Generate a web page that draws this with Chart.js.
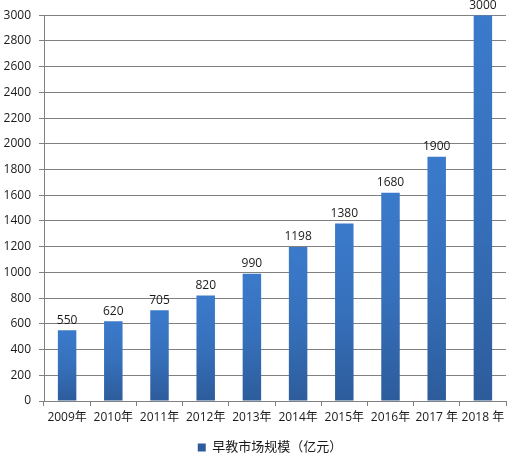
<!DOCTYPE html>
<html lang="zh">
<head>
    <meta charset="utf-8">
    <title>早教市场规模</title>
    <script src="https://cdn.jsdelivr.net/npm/chart.js"></script>
    <style>
        body, html {
            margin: 0;
            background: #fff;
        }
        #wrap {
            width: 510px;
            height: 464px;
        }
    </style>
</head>
<body>

<div id="wrap">
    <canvas id="myChart"></canvas>
</div>

<script>
    // data
    const years = ['2009年', '2010年', '2011年', '2012年', '2013年', '2014年', '2015年', '2016年', '2017 年', '2018 年']
    const marketSize = [550, 620, 705, 820, 990, 1198, 1380, 1620, 1900, 3000]
    const valueLabels = ['550', '620', '705', '820', '990', '1198', '1380', '1680', '1900', '3000']
    const seriesName = '早教市场规模（亿元）'

    const fontFamily = '"Open Sans", "Noto Sans CJK SC", sans-serif'

    // per-bar vertical gradient, light at the top, darker at the bottom
    function barGradient(context) {
        const chart = context.chart
        const area = chart.chartArea
        if (!area) return '#3a78c8'
        const yScale = chart.scales.y
        const top = yScale.getPixelForValue(context.parsed ? context.parsed.y : 0)
        const bottom = yScale.getPixelForValue(0)
        const g = chart.ctx.createLinearGradient(0, top, 0, bottom)
        g.addColorStop(0, '#3b7acb')
        g.addColorStop(0.5, '#3670bb')
        g.addColorStop(1, '#2d5c9b')
        return g
    }

    // draws the value over each bar
    const valueLabelPlugin = {
        id: 'valueLabels',
        afterLayout(chart) {
            // legend sits a little right of centre in the original
            chart.legend.left += 34
        },
        afterDatasetsDraw(chart) {
            const ctx = chart.ctx
            const meta = chart.getDatasetMeta(0)
            ctx.save()
            ctx.font = '12px ' + fontFamily
            ctx.fillStyle = '#1a1a1a'
            ctx.textAlign = 'center'
            ctx.textBaseline = 'bottom'
            meta.data.forEach(function (bar, i) {
                ctx.fillText(valueLabels[i], bar.x, bar.y - 4)
            })
            ctx.restore()
        }
    }

    const data = {
        labels: years,
        datasets: [{
            label: seriesName,
            data: marketSize,
            backgroundColor: barGradient,
            borderWidth: 0,
            categoryPercentage: 1,
            barPercentage: 0.4
        }]
    }

    const config = {
        type: 'bar',
        data: data,
        plugins: [valueLabelPlugin],
        options: {
            responsive: true,
            maintainAspectRatio: false,
            animation: false,
            layout: {
                padding: {top: 10, right: 4, bottom: 0, left: 0}
            },
            plugins: {
                tooltip: {enabled: false},
                legend: {
                    position: 'bottom',
                    labels: {
                        boxWidth: 8,
                        boxHeight: 8,
                        padding: 10,
                        color: '#1a1a1a',
                        font: {size: 13, family: fontFamily}
                    }
                }
            },
            scales: {
                x: {
                    afterFit(scale) { scale.height = 30 },
                    border: {color: '#808080', width: 1},
                    grid: {
                        offset: true,
                        drawOnChartArea: false,
                        color: '#808080',
                        tickLength: 5
                    },
                    ticks: {
                        padding: 4,
                        color: '#1a1a1a',
                        maxRotation: 0,
                        autoSkip: false,
                        font: {size: 12, family: fontFamily}
                    }
                },
                y: {
                    min: 0,
                    max: 3000,
                    afterFit(scale) { scale.width = 44 },
                    border: {color: '#808080', width: 1},
                    grid: {
                        color: '#808080',
                        tickLength: 5
                    },
                    ticks: {
                        stepSize: 200,
                        padding: 8,
                        color: '#1a1a1a',
                        font: {size: 12, family: fontFamily},
                        callback: function (value) { return String(value) }
                    }
                }
            }
        }
    }

    const myChart = new Chart(document.getElementById('myChart'), config)
</script>

</body>
</html>
